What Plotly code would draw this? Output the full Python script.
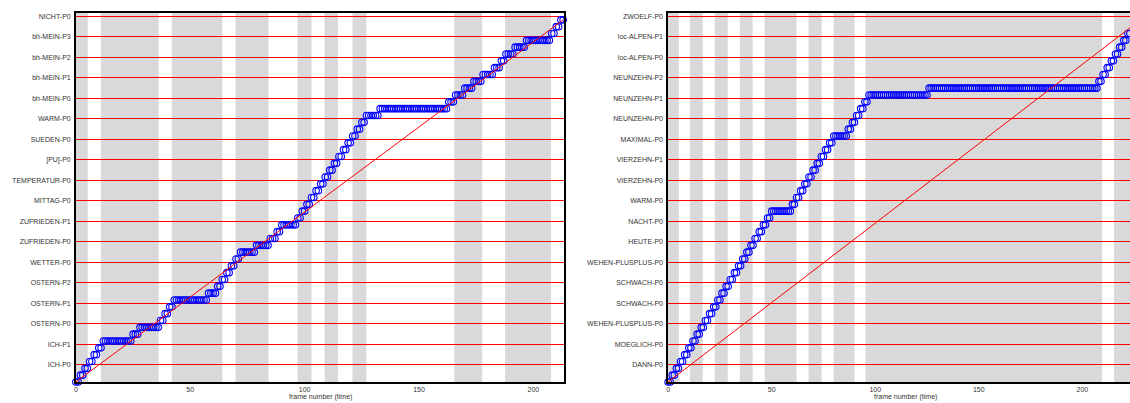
import plotly.graph_objects as go

# ---------------- data ----------------
left_labels = ["ICH-P0", "ICH-P1", "OSTERN-P0", "OSTERN-P1", "OSTERN-P2", "WETTER-P0",
               "ZUFRIEDEN-P0", "ZUFRIEDEN-P1", "MITTAG-P0", "TEMPERATUR-P0", "[PU]-P0",
               "SUEDEN-P0", "WARM-P0", "bh-MEIN-P0", "bh-MEIN-P1", "bh-MEIN-P2",
               "bh-MEIN-P3", "NICHT-P0"]
right_labels = ["DANN-P0", "MOEGLICH-P0", "WEHEN-PLUSPLUS-P0", "SCHWACH-P0", "SCHWACH-P0",
                "WEHEN-PLUSPLUS-P0", "HEUTE-P0", "NACHT-P0", "WARM-P0", "VIERZEHN-P0",
                "VIERZEHN-P1", "MAXIMAL-P0", "NEUNZEHN-P0", "NEUNZEHN-P1", "NEUNZEHN-P2",
                "loc-ALPEN-P0", "loc-ALPEN-P1", "ZWOELF-P0"]

# frames spent in each HMM state (state 0, 1, 2, ...)
left_durations = [2, 2, 2, 2, 2, 2, 13, 3, 9, 2, 2, 2, 15, 4, 2, 2, 2, 2, 2, 7, 6, 3, 2, 7,
                  2, 2, 2, 2, 2, 2, 2, 2, 2, 2, 2, 2, 2, 2, 2,
                  6, 30, 3, 4, 4, 4, 5, 3, 2, 4, 5, 11, 2, 2, 2]
right_durations = [2, 2, 2, 2, 2, 2, 2, 2, 2, 2, 2, 2, 2, 2, 2, 2, 2, 2, 2, 2, 2, 2, 2, 2, 2,
                   10, 2, 2, 2, 2, 2, 2, 2, 2, 2, 2, 7, 2, 2, 2, 2, 2, 29, 82,
                   2, 2, 2, 2, 2, 2, 2, 2, 2, 3]

# shaded segments (frame start, frame end)
left_band_start = [0, 10.9, 41.9, 69.8, 96.9, 108.7, 120.9, 165.4, 187.6]
left_band_end = [5.2, 36.2, 64.0, 84.2, 103.0, 114.6, 127.0, 177.6, 207.7]
right_band_start = [0, 10.5, 22.5, 34.6, 46.6, 67.8, 79.9, 95.3, 215.3]
right_band_end = [5.2, 16.7, 28.8, 40.8, 62.0, 74.1, 90.0, 209.5, 235.0]

x_ticks = [0, 50, 100, 150, 200]
states_per_label = 3
left_xmax = 213.5
right_xmax = 223.0
y_max = 54

FONT = "Liberation Sans, Arial, sans-serif"
TXT = "#333333"


def expand(durations):
    xs, ys = [], []
    f = 0
    for s, d in enumerate(durations):
        for _ in range(d):
            xs.append(f)
            ys.append(s)
            f += 1
    return xs, ys


def label_pos(labels):
    return [states_per_label * i + states_per_label - 0.5 for i in range(len(labels))]


fig = go.Figure()

panels = [
    ("x", "y", left_durations, left_band_start, left_band_end),
    ("x2", "y2", right_durations, right_band_start, right_band_end),
]
for xa, ya, durs, bs, be in panels:
    for a, b in zip(bs, be):
        fig.add_shape(type="rect", xref=xa, yref=ya + " domain", x0=a, x1=b, y0=0, y1=1,
                      fillcolor="#d9d9d9", line=dict(width=0), layer="below")
    xs, ys = expand(durs)
    fig.add_trace(go.Scatter(
        x=xs, y=ys, mode="markers", xaxis=xa, yaxis=ya, cliponaxis=False,
        marker=dict(symbol="circle-open", size=6.5, color="#0000ff", line=dict(width=1.1)),
        showlegend=False, hoverinfo="skip"))
    fig.add_trace(go.Scatter(
        x=[0, xs[-1]], y=[0, ys[-1]], mode="lines", xaxis=xa, yaxis=ya,
        line=dict(color="#ff0000", width=1), showlegend=False, hoverinfo="skip"))

axis_common = dict(showline=True, linecolor="black", linewidth=1.5, zeroline=False,
                   ticks="", tickfont=dict(family=FONT, size=7, color=TXT))

fig.update_layout(
    width=1130, height=403,
    margin=dict(l=0, r=0, t=13, b=21),
    paper_bgcolor="white", plot_bgcolor="white",
    font=dict(family=FONT, size=7, color=TXT),
    xaxis=dict(domain=[74 / 1130, 563.3 / 1130], range=[0, left_xmax], anchor="y",
               tickvals=x_ticks, showgrid=False, mirror=True, **axis_common),
    yaxis=dict(domain=[0, 1], range=[0, y_max], anchor="x",
               tickvals=label_pos(left_labels), ticktext=left_labels,
               showgrid=True, gridcolor="#ff0000", gridwidth=1, mirror=True,
               ticklabelstandoff=2, **axis_common),
    xaxis2=dict(domain=[667.3 / 1130, 1.0], range=[0, right_xmax], anchor="y2",
                tickvals=x_ticks, showgrid=False, mirror=True, **axis_common),
    yaxis2=dict(domain=[0, 1], range=[0, y_max], anchor="x2",
                tickvals=label_pos(right_labels), ticktext=right_labels,
                showgrid=True, gridcolor="#ff0000", gridwidth=1, mirror=False,
                ticklabelstandoff=2, **axis_common),
)

fig.add_annotation(text="frame number (time)", xref="x domain", yref="paper",
                   x=0.5, y=-0.04, yanchor="middle", showarrow=False,
                   font=dict(family=FONT, size=7, color=TXT))
fig.add_annotation(text="frame number (time)", xref="x2", yref="paper",
                   x=sum(right_durations) / 2, y=-0.04, yanchor="middle", showarrow=False,
                   font=dict(family=FONT, size=7, color=TXT))

fig.write_html(
    "out.html",
    config={"displayModeBar": False},
    post_script="document.body.style.margin='0';document.body.style.overflow='hidden';"
                "document.documentElement.style.overflow='hidden';",
)
